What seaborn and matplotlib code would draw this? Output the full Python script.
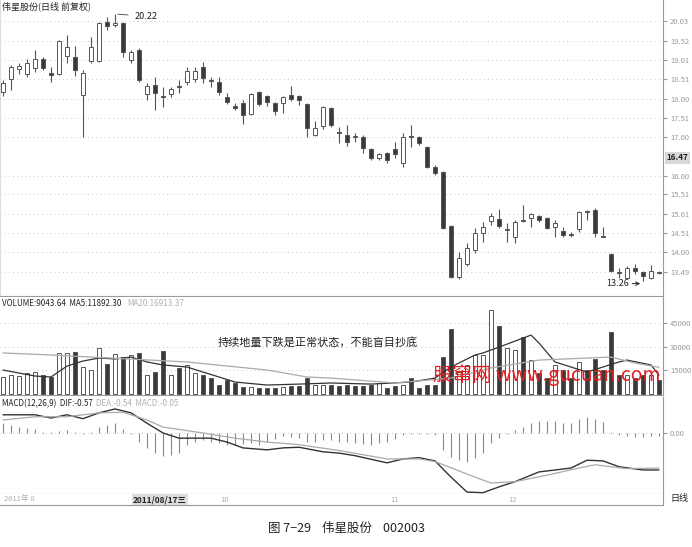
import numpy as np
import pandas as pd
import seaborn as sns
import matplotlib.pyplot as plt

# daily candles, left to right
opens = [18.18, 18.52, 18.78, 18.65, 18.81, 19.05, 18.68, 18.65, 19.12, 19.10,
         18.11, 19.00, 19.00, 20.01, 19.93, 19.98, 19.02, 19.28, 18.13, 18.37,
         18.08, 18.13, 18.34, 18.44, 18.52, 18.84, 18.50, 18.44, 18.05, 17.81,
         17.90, 17.61, 18.18, 18.08, 17.90, 17.90, 18.11, 18.08, 17.87, 17.06,
         17.30, 17.77, 17.13, 17.06, 17.03, 17.01, 16.70, 16.46, 16.59, 16.70,
         16.33, 17.03, 17.01, 16.75, 16.23, 16.09, 14.69, 13.36, 13.69, 14.06,
         14.50, 14.82, 14.87, 14.57, 14.40, 14.83, 14.89, 14.95, 14.89, 14.66,
         14.56, 14.46, 14.61, 15.06, 15.10, 14.43, 13.95, 13.49, 13.33, 13.59,
         13.48, 13.33, 13.47]
highs = [18.50, 18.89, 18.94, 19.05, 19.28, 19.10, 18.84, 19.54, 19.67, 19.38,
         18.76, 19.62, 20.01, 20.15, 20.22, 20.01, 19.28, 19.33, 18.42, 18.58,
         18.31, 18.31, 18.50, 18.84, 18.84, 18.97, 18.58, 18.58, 18.16, 17.90,
         17.98, 18.16, 18.21, 18.11, 17.92, 18.08, 18.34, 18.11, 17.90, 17.43,
         17.82, 17.79, 17.27, 17.32, 17.11, 17.06, 16.72, 16.59, 16.62, 16.88,
         17.11, 17.32, 17.03, 16.77, 16.28, 16.12, 14.71, 14.00, 14.24, 14.63,
         14.79, 15.02, 15.13, 14.76, 14.84, 15.23, 15.02, 14.97, 14.92, 14.84,
         14.66, 14.53, 15.07, 15.10, 15.15, 14.66, 13.98, 13.59, 13.64, 13.69,
         13.51, 13.67, 13.51]
lows = [18.08, 18.24, 18.65, 18.58, 18.70, 18.76, 18.44, 18.63, 18.94, 18.60,
        17.01, 18.94, 18.97, 19.80, 19.88, 19.10, 18.94, 18.44, 17.98, 17.71,
        17.79, 18.05, 18.16, 18.37, 18.44, 18.42, 18.31, 18.11, 17.87, 17.71,
        17.35, 17.58, 17.82, 17.82, 17.58, 17.64, 17.95, 17.84, 17.01, 17.03,
        17.22, 17.27, 16.85, 16.77, 16.88, 16.59, 16.41, 16.41, 16.33, 16.46,
        16.23, 16.75, 16.80, 16.20, 16.02, 14.61, 13.32, 13.30, 13.64, 13.98,
        14.27, 14.71, 14.63, 14.27, 14.24, 14.79, 14.66, 14.79, 14.61, 14.40,
        14.40, 14.40, 14.53, 14.84, 14.40, 14.40, 13.48, 13.33, 13.30, 13.43,
        13.26, 13.30, 13.43]
closes = [18.42, 18.84, 18.86, 18.94, 19.05, 18.81, 18.63, 19.52, 19.36, 18.76,
          18.68, 19.36, 19.98, 19.91, 19.98, 19.23, 19.23, 18.50, 18.34, 18.16,
          18.05, 18.26, 18.31, 18.73, 18.73, 18.55, 18.47, 18.18, 17.92, 17.77,
          17.58, 18.13, 17.87, 17.92, 17.69, 18.05, 18.00, 17.98, 17.24, 17.24,
          17.79, 17.32, 17.11, 16.88, 17.01, 16.72, 16.46, 16.56, 16.41, 16.56,
          17.01, 17.01, 16.85, 16.23, 16.07, 14.63, 13.36, 13.85, 14.11, 14.50,
          14.66, 14.95, 14.69, 14.59, 14.79, 14.81, 15.00, 14.84, 14.63, 14.76,
          14.45, 14.44, 15.05, 15.04, 14.50, 14.41, 13.51, 13.47, 13.59, 13.51,
          13.38, 13.51, 13.45]
volumes = [10800, 12000, 11400, 13300, 13900, 12000, 10800, 26000, 26000, 26600,
           17100, 15200, 29100, 19000, 25300, 23400, 24700, 26000, 12000, 13900,
           27200, 12000, 16500, 18400, 13300, 12000, 10100, 5700, 8900, 7000,
           4400, 4400, 3800, 3800, 3800, 4400, 5100, 5100, 10100, 5700,
           5700, 5700, 5100, 5700, 5100, 5100, 5700, 7000, 3800, 5100,
           5700, 10100, 3800, 5700, 5700, 23400, 41100, 13900, 18400, 24700,
           24700, 53200, 43000, 29100, 27800, 36100, 21500, 13300, 10100, 18400,
           15200, 10100, 20300, 15200, 22200, 15200, 39200, 12000, 12000, 10100,
           12000, 12000, 9043.64]

ma5_idx = [0, 4, 6, 8, 10, 12, 14, 16, 18, 20, 23, 25, 27, 29, 33, 37, 41, 46, 51,
           54, 56, 59, 60, 62, 66, 67, 69, 73, 77, 78, 81, 82]
ma5_val = [15200, 11400, 10800, 17700, 20900, 22800, 22200, 23400, 20300, 18400,
           17100, 13900, 10800, 7600, 5700, 6300, 7000, 6300, 7600, 10100, 17100,
           24700, 26000, 29700, 37300, 32300, 20300, 13900, 20300, 21500, 18400, 11892.30]
ma20_idx = [0, 6, 23, 33, 38, 41, 49, 56, 61, 67, 76, 79, 82]
ma20_val = [26000, 24700, 20300, 15200, 10800, 10100, 7000, 10100, 16500, 21500,
            23400, 19600, 16913.37]

dif_idx = [0, 4, 6, 8, 10, 12, 14, 16, 18, 20, 22, 24, 26, 28, 30, 33, 35, 37, 40,
           42, 44, 48, 50, 52, 54, 56, 58, 60, 62, 64, 67, 71, 73, 75, 77, 80, 82]
dif_val = [0.28, 0.28, 0.23, 0.28, 0.22, 0.31, 0.37, 0.31, 0.15, 0.0,
           -0.08, -0.08, -0.08, -0.14, -0.23, -0.26, -0.23, -0.22, -0.29, -0.31,
           -0.35, -0.46, -0.40, -0.38, -0.43, -0.68, -0.91, -0.92, -0.83, -0.75,
           -0.60, -0.54, -0.42, -0.43, -0.52, -0.57, -0.57]
dea_idx = [0, 4, 8, 12, 15, 18, 20, 25, 29, 33, 37, 42, 48, 52, 54, 59, 61, 64, 68,
           72, 74, 78, 82]
dea_val = [0.20, 0.25, 0.25, 0.31, 0.32, 0.20, 0.09, 0.0, -0.08, -0.14,
           -0.18, -0.27, -0.40, -0.40, -0.44, -0.68, -0.77, -0.75, -0.65, -0.54,
           -0.49, -0.55, -0.54]
macd_hist = [0.15, 0.12, 0.09, 0.08, 0.06, 0.02, 0.02, 0.03, 0.05, 0.01,
             -0.02, 0.02, 0.09, 0.12, 0.15, 0.06, -0.01, -0.14, -0.23, -0.31,
             -0.35, -0.34, -0.31, -0.18, -0.14, -0.11, -0.14, -0.15, -0.18, -0.18,
             -0.17, -0.15, -0.18, -0.14, -0.09, -0.05, -0.06, -0.08, -0.14, -0.14,
             -0.11, -0.11, -0.14, -0.14, -0.15, -0.17, -0.18, -0.15, -0.14, -0.09,
             -0.03, -0.02, -0.01, -0.02, -0.03, -0.26, -0.37, -0.42, -0.45, -0.38,
             -0.31, -0.15, -0.08, -0.02, 0.05, 0.09, 0.15, 0.18, 0.18, 0.18,
             0.15, 0.15, 0.22, 0.25, 0.22, 0.17, 0.02, -0.03, -0.05, -0.06,
             -0.06, -0.05, -0.05]

price_ticks = [20.03, 19.52, 19.01, 18.51, 18.00, 17.51, 17.00, 16.00, 15.51, 15.01,
               14.51, 14.00, 13.49]
vol_ticks = [45000, 30000, 15000]

sns.set_style("white")
plt.rcParams['font.family'] = ['Noto Sans CJK SC', 'DejaVu Sans']

W, H = 692, 547
fig = plt.figure(figsize=(W / 100, H / 100), dpi=100)


def box(x0, y0, x1, y1):
    return [x0 / W, 1 - y1 / H, (x1 - x0) / W, (y1 - y0) / H]


ax = fig.add_axes(box(0, 0, 663, 296))
axv = fig.add_axes(box(0, 297, 663, 395))
axm = fig.add_axes(box(0, 397, 663, 494))
axd = fig.add_axes(box(0, 494, 663, 505))

df = pd.DataFrame({'o': opens, 'h': highs, 'l': lows, 'c': closes, 'v': volumes})
df['x'] = np.arange(len(df))
up = df['c'] >= df['o']
dark = '#3a3a3a'
edge = '#555555'
face = np.where(up, 'white', dark)

xlim = (-0.375, 82.5)

# price panel
ax.vlines(df['x'], df['l'], df['h'], color=edge, lw=0.8, zorder=2)
body = (df['c'] - df['o']).abs().clip(lower=0.025)
ax.bar(df['x'], body, bottom=df[['o', 'c']].min(axis=1), width=0.62,
       color=face, edgecolor=edge, linewidth=0.7, zorder=3)
for t in price_ticks:
    ax.axhline(t, color='#b8b8b8', lw=0.6, ls=(0, (1, 4)), zorder=0)
ax.set_xlim(*xlim)
ax.set_ylim(12.857, 20.585)
ax.yaxis.tick_right()
ax.set_yticks(price_ticks)
ax.set_yticklabels(['%.2f' % t for t in price_ticks], fontsize=5.5, color='#9a9a9a')
ax.tick_params(axis='y', length=3, color='#999999', pad=2)
ax.set_xticks([])
ax.text(0.003, 0.995, '伟星股份(日线 前复权)', transform=ax.transAxes, fontsize=6.5,
        color='#222222', va='top', ha='left')
ax.annotate('20.22', xy=(14, 20.22), xytext=(16.4, 20.16), fontsize=6.5, color='#222222',
            va='center', arrowprops=dict(arrowstyle='-', color='#444444', lw=0.6))
ax.annotate('13.26', xy=(80, 13.18), xytext=(75.4, 13.18), fontsize=6.5, color='#222222',
            va='center', ha='left', arrowprops=dict(arrowstyle='->', color='#222222', lw=0.7,
                                                    shrinkA=12))
ax.text(1.005, 16.47, '16.47', transform=ax.get_yaxis_transform(), fontsize=5.8,
        fontweight='bold', color='#222222', va='center', ha='left', clip_on=False,
        bbox=dict(boxstyle='square,pad=0.2', facecolor='#d8d8d8', edgecolor='none'))

# volume panel
axv.bar(df['x'], df['v'], width=0.62, color=face, edgecolor=edge, linewidth=0.7, zorder=3)
sns.lineplot(x=ma5_idx, y=ma5_val, ax=axv, color='#333333', lw=0.9, zorder=4)
sns.lineplot(x=ma20_idx, y=ma20_val, ax=axv, color='#aaaaaa', lw=0.9, zorder=4)
for t in vol_ticks:
    axv.axhline(t, color='#b8b8b8', lw=0.6, ls=(0, (1, 4)), zorder=0)
axv.set_xlim(*xlim)
axv.set_ylim(-600, 61400)
axv.yaxis.tick_right()
axv.set_yticks(vol_ticks)
axv.set_yticklabels([str(t) for t in vol_ticks], fontsize=5.5, color='#9a9a9a')
axv.tick_params(axis='y', length=3, color='#999999', pad=2)
axv.set_xticks([])
axv.set_ylabel('')
axv.text(0.003, 0.975, 'VOLUME:9043.64  MA5:11892.30', transform=axv.transAxes,
         fontsize=5.8, color='#222222', va='top')
axv.text(0.192, 0.975, 'MA20:16913.37', transform=axv.transAxes,
         fontsize=5.8, color='#b0b0b0', va='top')
axv.text(218 / 663, 0.54, '持续地量下跌是正常状态，不能盲目抄底', transform=axv.transAxes,
         fontsize=8, color='#222222', va='center')

# macd panel
axm.vlines(df['x'], 0, macd_hist, color='#8a8a8a', lw=0.8, zorder=2)
sns.lineplot(x=dif_idx, y=dif_val, ax=axm, color='#333333', lw=1.0, zorder=3)
sns.lineplot(x=dea_idx, y=dea_val, ax=axm, color='#aaaaaa', lw=0.9, zorder=3)
axm.axhline(0, color='#b8b8b8', lw=0.6, ls=(0, (1, 4)), zorder=0)
axm.set_xlim(*xlim)
axm.set_ylim(-0.94, 0.554)
axm.yaxis.tick_right()
axm.set_yticks([0])
axm.set_yticklabels(['0.00'], fontsize=5.5, color='#9a9a9a')
axm.tick_params(axis='y', length=3, color='#999999', pad=2)
axm.set_xticks([])
axm.set_ylabel('')
axm.text(0.003, 0.975, 'MACD(12,26,9)  DIF:-0.57', transform=axm.transAxes,
         fontsize=5.8, color='#222222', va='top')
axm.text(0.145, 0.975, 'DEA:-0.54  MACD:-0.05', transform=axm.transAxes,
         fontsize=5.8, color='#b0b0b0', va='top')

# date strip
axd.set_xlim(0, 663)
axd.set_ylim(0, 1)
axd.set_xticks([])
axd.set_yticks([])
axd.text(4, 0.5, '2011年 8', fontsize=5.5, color='#b0b0b0', va='center')
axd.text(160, 0.5, '2011/08/17三', fontsize=6, fontweight='bold', color='#222222',
         va='center', ha='center',
         bbox=dict(boxstyle='square,pad=0.15', facecolor='#dddddd', edgecolor='none'))
axd.text(220, 0.5, '10', fontsize=5.5, color='#b0b0b0', va='center')
axd.text(390, 0.5, '11', fontsize=5.5, color='#b0b0b0', va='center')
axd.text(508, 0.5, '12', fontsize=5.5, color='#b0b0b0', va='center')

for a in (ax, axv, axm, axd):
    for s in ('left', 'top'):
        a.spines[s].set_visible(False)
    for s in ('right', 'bottom'):
        a.spines[s].set_color('#9a9a9a')
        a.spines[s].set_linewidth(0.8)
ax.spines['left'].set_visible(True)
ax.spines['left'].set_color('#dddddd')

fig.text(679 / W, 1 - 499 / H, '日线', fontsize=6.5, color='#222222', ha='center', va='center')
fig.text(433 / W, 1 - 375 / H, '股窜网 www.gucuan.com', fontsize=14, color='#e02020',
         ha='left', va='center')
fig.text(347 / W, 1 - 528 / H, '图 7−29    伟星股份    002003', fontsize=9,
         color='#222222', ha='center', va='center')

fig.savefig('out.png', dpi=100)
